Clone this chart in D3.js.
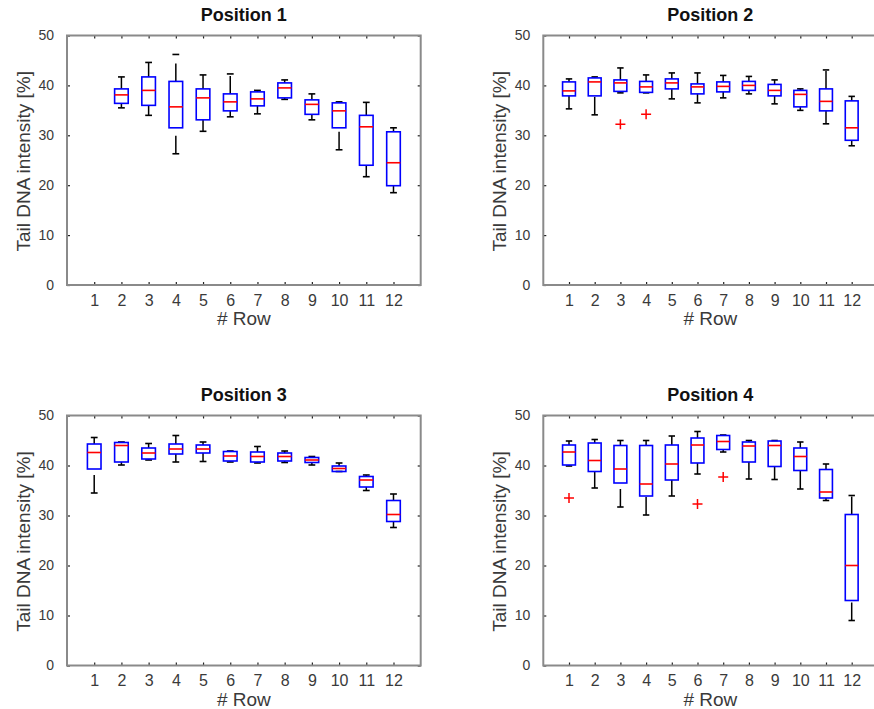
<!DOCTYPE html>
<html>
<head>
<meta charset="utf-8">
<script src="https://cdn.jsdelivr.net/npm/d3@7"></script>
<style>
  html, body { margin: 0; padding: 0; background: #fff; }
  svg { display: block; font-family: "Liberation Sans", Arial, Helvetica, sans-serif; }
</style>
</head>
<body>
<svg id="chart" width="874" height="709"></svg>
<script>
// Row numbers on the x axis and tick values on the y axis
const rows = [1, 2, 3, 4, 5, 6, 7, 8, 9, 10, 11, 12];
const yTicks = [0, 10, 20, 30, 40, 50];
const titles = ["Position 1", "Position 2", "Position 3", "Position 4"];
const xLabel = "# Row";
const yLabel = "Tail DNA intensity [%]";

// Box statistics per row: [lower whisker, Q1, median, Q3, upper whisker]
const position1 = [
  null,
  [35.5, 36.4, 38.1, 39.3, 41.7],
  [34.0, 36.0, 39.0, 41.7, 44.6],
  [26.3, 31.5, 35.7, 40.8, 46.2],
  [30.8, 33.1, 37.5, 39.3, 42.1],
  [33.7, 34.9, 36.7, 38.3, 42.3],
  [34.3, 35.9, 37.3, 38.7, 39.0],
  [37.2, 37.5, 39.5, 40.5, 41.1],
  [33.1, 34.2, 36.2, 37.1, 38.3],
  [27.1, 31.5, 34.9, 36.5, 36.7],
  [21.7, 24.0, 31.7, 34.0, 36.6],
  [18.5, 19.9, 24.5, 30.7, 31.5]
];
const position2 = [
  [35.3, 37.9, 38.9, 40.7, 41.3],
  [34.1, 37.9, 40.7, 41.5, 41.7],
  [38.5, 38.8, 40.5, 41.1, 43.5],
  [38.5, 38.6, 39.7, 40.8, 42.1],
  [37.3, 39.3, 40.5, 41.3, 42.5],
  [36.5, 38.3, 39.7, 40.3, 42.5],
  [37.5, 38.7, 39.8, 40.7, 42.0],
  [38.3, 39.0, 40.0, 40.8, 41.8],
  [36.3, 37.9, 39.0, 40.2, 41.1],
  [35.0, 35.7, 38.2, 39.0, 39.3],
  [32.3, 34.9, 36.8, 39.3, 43.1],
  [27.9, 29.0, 31.5, 36.9, 37.8]
];
const position3 = [
  [34.5, 39.3, 42.6, 44.3, 45.6],
  [40.1, 40.7, 44.0, 44.6, 44.7],
  [41.1, 41.3, 42.5, 43.5, 44.4],
  [40.7, 42.3, 43.3, 44.3, 46.0],
  [40.8, 42.5, 43.3, 44.1, 44.7],
  [40.7, 40.9, 41.9, 42.8, 42.9],
  [40.5, 40.7, 41.8, 42.7, 43.8],
  [40.6, 40.9, 41.8, 42.5, 42.9],
  [40.1, 40.6, 41.1, 41.6, 41.8],
  [38.8, 38.8, 39.4, 39.9, 40.5],
  [35.0, 35.7, 37.1, 37.8, 38.1],
  [27.6, 28.8, 30.2, 33.0, 34.3]
];
const position4 = [
  [39.9, 40.1, 42.7, 44.1, 44.9],
  [35.5, 38.8, 41.0, 44.5, 45.2],
  [31.7, 36.5, 39.3, 44.0, 45.0],
  [30.1, 33.9, 36.3, 44.0, 45.0],
  [33.9, 37.1, 40.3, 44.1, 45.9],
  [38.3, 40.5, 44.1, 45.5, 46.8],
  [42.7, 43.2, 44.8, 46.0, 46.1],
  [37.3, 40.7, 43.9, 44.7, 45.0],
  [37.2, 39.8, 44.0, 44.9, 45.0],
  [35.3, 39.0, 41.8, 43.5, 44.7],
  [33.0, 33.5, 34.7, 39.2, 40.3],
  [9.0, 13.0, 20.0, 30.2, 34.0]
];

// Outliers drawn as red "+" markers: [row, value]
const outliers1 = [];
const outliers2 = [[3, 32.2], [4, 34.2]];
const outliers3 = [];
const outliers4 = [[1, 33.5], [6, 32.3], [7, 37.7]];

const statsByPanel = [position1, position2, position3, position4];
const outliersByPanel = [outliers1, outliers2, outliers3, outliers4];

// Axes rectangles for the 2x2 grid
const frames = [
  { x0: 67, x1: 420.7, y0: 35.5, y1: 285 },
  { x0: 543.3, x1: 877.4, y0: 35.5, y1: 285 },
  { x0: 67, x1: 420.7, y0: 415.5, y1: 665.5 },
  { x0: 543.3, x1: 877.4, y0: 415.5, y1: 665.5 }
];

const svg = d3.select("#chart");
svg.append("rect").attr("width", 874).attr("height", 709).attr("fill", "#fff");

const BOX_W = 0.5, CAP_W = 0.25;

frames.forEach((f, i) => {
  const x = d3.scaleLinear().domain([0, 13]).range([f.x0, f.x1]);
  const y = d3.scaleLinear().domain([0, 50]).range([f.y1, f.y0]);
  const g = svg.append("g");

  // plot area
  g.append("rect")
    .attr("x", f.x0).attr("y", f.y0)
    .attr("width", f.x1 - f.x0).attr("height", f.y1 - f.y0)
    .attr("fill", "#fff");

  // axes with inward ticks
  const ax = g.append("g").attr("transform", `translate(0,${f.y1})`)
    .call(d3.axisBottom(x).tickValues(rows).tickSize(-3).tickFormat(d3.format("d")));
  ax.selectAll("text").attr("y", 20.5).attr("dy", null)
    .attr("font-size", 16).attr("fill", "#3a3a3a");
  const ay = g.append("g").attr("transform", `translate(${f.x0},0)`)
    .call(d3.axisLeft(y).tickValues(yTicks).tickSize(-3).tickPadding(13));
  ay.selectAll("text").attr("font-size", 14).attr("fill", "#3a3a3a");
  const at = g.append("g").attr("transform", `translate(0,${f.y0})`)
    .call(d3.axisTop(x).tickValues(rows).tickSize(-3).tickFormat(""));
  const ar = g.append("g").attr("transform", `translate(${f.x1},0)`)
    .call(d3.axisRight(y).tickValues(yTicks).tickSize(-3).tickFormat(""));
  [ax, ay, at, ar].forEach(a => {
    a.select(".domain").remove();
    a.selectAll(".tick line").attr("stroke", "#222").attr("stroke-width", 1.2);
  });

  // frame
  g.append("rect")
    .attr("x", f.x0).attr("y", f.y0)
    .attr("width", f.x1 - f.x0).attr("height", f.y1 - f.y0)
    .attr("fill", "none").attr("stroke", "#8a8a8a").attr("stroke-width", 2);

  // boxes
  const data = statsByPanel[i]
    .map((s, k) => s ? { row: rows[k], lo: s[0], q1: s[1], med: s[2], q3: s[3], hi: s[4] } : null)
    .filter(d => d);
  const bw = x(BOX_W) - x(0), cw = x(CAP_W) - x(0);
  const b = g.selectAll(".box").data(data).enter().append("g").attr("class", "box");

  // whiskers, drawn upward from the lower end, dashed
  b.append("line")
    .attr("x1", d => x(d.row)).attr("x2", d => x(d.row))
    .attr("y1", d => y(d.lo)).attr("y2", d => y(d.q1))
    .attr("stroke", "#000").attr("stroke-width", 1.5).attr("stroke-dasharray", "18,9");
  b.append("line")
    .attr("x1", d => x(d.row)).attr("x2", d => x(d.row))
    .attr("y1", d => y(d.q3)).attr("y2", d => y(d.hi))
    .attr("stroke", "#000").attr("stroke-width", 1.5).attr("stroke-dasharray", "18,9");
  // caps
  ["lo", "hi"].forEach(key => {
    b.append("line")
      .attr("x1", d => x(d.row) - cw / 2).attr("x2", d => x(d.row) + cw / 2)
      .attr("y1", d => y(d[key])).attr("y2", d => y(d[key]))
      .attr("stroke", "#000").attr("stroke-width", 1.6);
  });
  // box
  b.append("rect")
    .attr("x", d => x(d.row) - bw / 2).attr("width", bw)
    .attr("y", d => y(d.q3)).attr("height", d => y(d.q1) - y(d.q3))
    .attr("fill", "none").attr("stroke", "#0000ff").attr("stroke-width", 1.6);
  // median
  b.append("line")
    .attr("x1", d => x(d.row) - bw / 2).attr("x2", d => x(d.row) + bw / 2)
    .attr("y1", d => y(d.med)).attr("y2", d => y(d.med))
    .attr("stroke", "#ff0000").attr("stroke-width", 1.6);

  // outliers
  g.selectAll(".out").data(outliersByPanel[i]).enter().append("path")
    .attr("class", "out")
    .attr("d", d => {
      const cx = x(d[0]), cy = y(d[1]), r = 5;
      return `M${cx - r},${cy}H${cx + r}M${cx},${cy - r}V${cy + r}`;
    })
    .attr("stroke", "#ff0000").attr("stroke-width", 1.5).attr("fill", "none");

  // labels
  g.append("text")
    .attr("x", (f.x0 + f.x1) / 2).attr("y", f.y0 - 15)
    .attr("text-anchor", "middle").attr("font-size", 18).attr("font-weight", "bold")
    .attr("fill", "#111").text(titles[i]);
  g.append("text")
    .attr("x", (f.x0 + f.x1) / 2).attr("y", f.y1 + 40)
    .attr("text-anchor", "middle").attr("font-size", 19).attr("fill", "#3a3a3a")
    .text(xLabel);
  g.append("text")
    .attr("transform", `translate(${f.x0 - 37},${(f.y0 + f.y1) / 2 + 1}) rotate(-90)`)
    .attr("text-anchor", "middle").attr("font-size", 19).attr("fill", "#3a3a3a")
    .text(yLabel);
});
</script>
</body>
</html>
